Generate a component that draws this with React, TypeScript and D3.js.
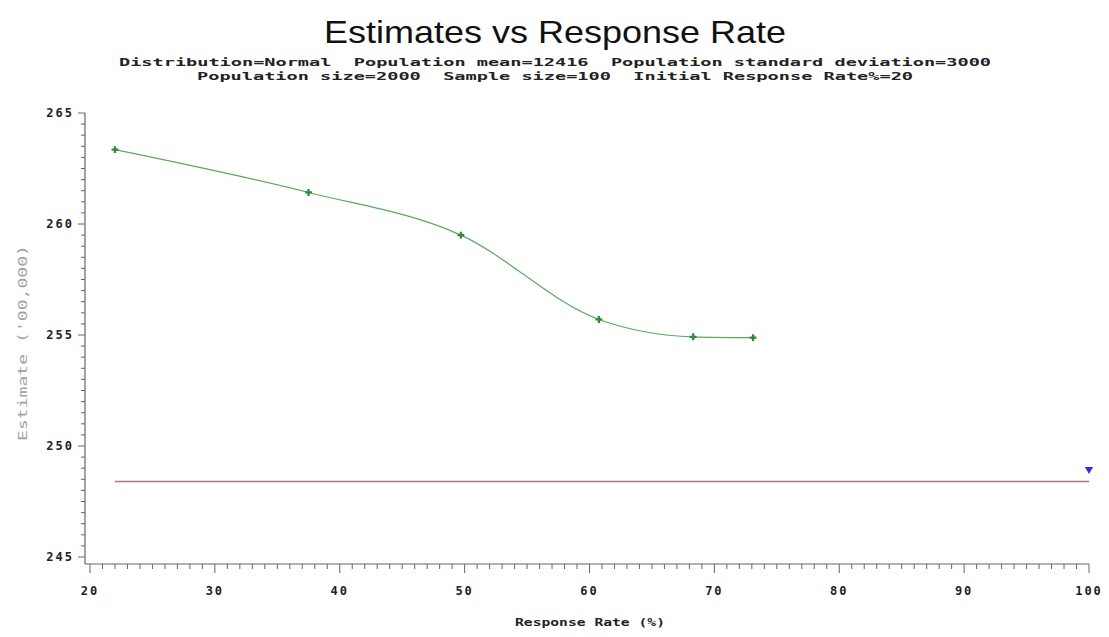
import { useEffect, useRef } from 'react'
import * as d3 from 'd3'

const W = 1109
const H = 637

const rates = [22, 37.5, 49.7, 60.75, 68.3, 73.1]
const estimates = [263.35, 261.42, 259.5, 255.7, 254.92, 254.88]
const popValue = 248.4
const lineStart = 22
const lineEnd = 100
const fullRate = [100]
const fullEstimate = [248.95]

const xTicks = [20, 30, 40, 50, 60, 70, 80, 90, 100]
const yTicks = [245, 250, 255, 260, 265]

const subtitle1 = 'Distribution=Normal  Population mean=12416  Population standard deviation=3000'
const subtitle2 = 'Population size=2000  Sample size=100  Initial Response Rate%=20'

const MONO = '"DejaVu Sans Mono", "Liberation Mono", monospace'

export default function App() {
  const ref = useRef<SVGSVGElement>(null)

  useEffect(() => {
    const svg = d3.select(ref.current)
    svg.selectAll('*').remove()

    const x = d3.scaleLinear().domain([20, 100]).range([90, 1089])
    const y = d3.scaleLinear().domain([245, 265]).range([557, 113])
    const axisX = 85
    const axisY = 564

    // titles
    svg.append('text').attr('x', 555).attr('y', 43).attr('text-anchor', 'middle')
      .attr('font-family', '"Liberation Sans", Arial, sans-serif').attr('font-size', 32)
      .attr('textLength', 462).attr('lengthAdjust', 'spacingAndGlyphs')
      .attr('fill', '#111').text('Estimates vs Response Rate')
    const subs = [subtitle1, subtitle2]
    const subLen = [872, 716]
    subs.forEach((s, i) => {
      svg.append('text').attr('x', 555).attr('y', 66 + i * 14).attr('text-anchor', 'middle')
        .attr('font-family', MONO).attr('font-weight', 'bold').attr('font-size', 11)
        .attr('textLength', subLen[i]).attr('lengthAdjust', 'spacingAndGlyphs')
        .attr('fill', '#222').style('white-space', 'pre').text(s)
    })

    const axisCol = '#666'
    const g = svg.append('g')

    // x axis
    const xa = g.append('g')
    xa.append('line').attr('x1', axisX).attr('x2', x(100)).attr('y1', axisY).attr('y2', axisY)
      .attr('stroke', axisCol).attr('stroke-width', 1.2)
    d3.range(20, 101, 1).forEach(v => {
      const major = v % 10 === 0
      xa.append('line').attr('x1', x(v)).attr('x2', x(v)).attr('y1', axisY).attr('y2', axisY + (major ? 9 : 5))
        .attr('stroke', axisCol).attr('stroke-width', 1)
    })
    xTicks.forEach(v => {
      xa.append('text').attr('x', x(v)).attr('y', 591).attr('dy', '0.35em').attr('text-anchor', 'middle')
        .attr('font-family', MONO).attr('font-weight', 'bold').attr('font-size', 12)
        .attr('letter-spacing', 2).attr('fill', '#222').text(v)
    })
    svg.append('text').attr('x', 590).attr('y', 622).attr('dy', '0.35em').attr('text-anchor', 'middle')
      .attr('font-family', MONO).attr('font-weight', 'bold').attr('font-size', 11)
      .attr('textLength', 150).attr('lengthAdjust', 'spacingAndGlyphs')
      .attr('fill', '#222').text('Response Rate (%)')

    // y axis
    const ya = g.append('g')
    ya.append('line').attr('x1', axisX).attr('x2', axisX).attr('y1', y(265)).attr('y2', axisY)
      .attr('stroke', axisCol).attr('stroke-width', 1.2)
    d3.range(245, 265.01, 0.5).forEach(v => {
      const major = Math.abs(v % 5) < 1e-6
      ya.append('line').attr('x1', axisX - (major ? 7 : 4)).attr('x2', axisX).attr('y1', y(v)).attr('y2', y(v))
        .attr('stroke', axisCol).attr('stroke-width', 1)
    })
    yTicks.forEach(v => {
      ya.append('text').attr('x', 74).attr('y', y(v)).attr('dy', '0.35em').attr('text-anchor', 'end')
        .attr('font-family', MONO).attr('font-weight', 'bold').attr('font-size', 12)
        .attr('letter-spacing', 2).attr('fill', '#222').text(v)
    })
    svg.append('text').attr('transform', `translate(22,343) rotate(-90)`).attr('text-anchor', 'middle')
      .attr('dy', '0.35em').attr('font-family', MONO).attr('font-size', 13)
      .attr('textLength', 196).attr('lengthAdjust', 'spacingAndGlyphs')
      .attr('fill', '#a0a0a0').text("Estimate ('00,000)")

    // population line
    g.append('line').attr('x1', x(lineStart)).attr('x2', x(lineEnd))
      .attr('y1', y(popValue)).attr('y2', y(popValue))
      .attr('stroke', '#b27088').attr('stroke-width', 1.3)

    // estimates curve
    const pts = rates.map((r, i) => [r, estimates[i]] as [number, number])
    const line = d3.line<[number, number]>().x(d => x(d[0])).y(d => y(d[1])).curve(d3.curveMonotoneX)
    g.append('path').attr('d', line(pts)).attr('fill', 'none')
      .attr('stroke', '#5aab5e').attr('stroke-width', 1.2)
    const cross = d3.symbol().type(d3.symbolCross).size(26)
    g.selectAll('.pt').data(pts).join('path')
      .attr('transform', d => `translate(${x(d[0])},${y(d[1])})`)
      .attr('d', cross()).attr('fill', '#2e8b3a')

    // full response marker
    const tri = d3.symbol().type(d3.symbolTriangle).size(30)
    g.selectAll('.full').data(fullRate).join('path')
      .attr('transform', (d, i) => `translate(${x(d)},${y(fullEstimate[i])}) rotate(180)`)
      .attr('d', tri()).attr('fill', '#3333cc')
  }, [])

  return (
    <div style={{ position: 'absolute', left: 0, top: 0 }}>
      <svg ref={ref} width={W} height={H} style={{ display: 'block', background: '#fff' }} />
    </div>
  )
}
